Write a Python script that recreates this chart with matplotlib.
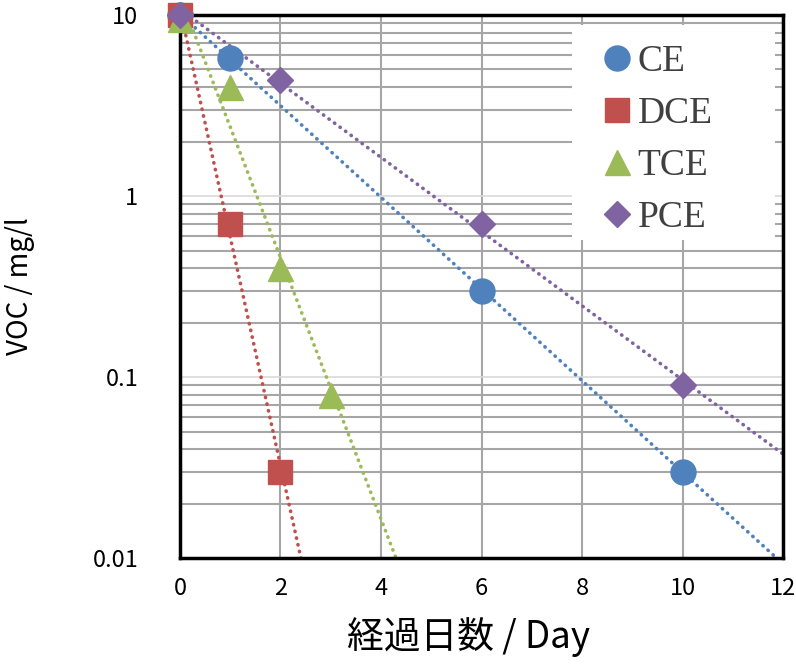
import matplotlib.pyplot as plt
from matplotlib.patches import Rectangle
import numpy as np

days_ce = [0, 1, 6, 10]
voc_ce = [10, 5.8, 0.3, 0.03]
days_dce = [0, 1, 2]
voc_dce = [10, 0.7, 0.03]
days_tce = [0, 1, 2, 3]
voc_tce = [9.5, 4.0, 0.4, 0.08]
days_pce = [0, 2, 6, 10]
voc_pce = [10, 4.4, 0.7, 0.09]

plt.rcParams['font.family'] = ['Noto Sans CJK JP', 'DejaVu Sans']

fig = plt.figure(figsize=(7.96, 6.64), dpi=100)
ax = fig.add_axes([0.226, 0.1596, 0.758, 0.8178])

series = [
    ("CE", days_ce, voc_ce, "#4F81BD", "o", 18),
    ("DCE", days_dce, voc_dce, "#C0504D", "s", 17),
    ("TCE", days_tce, voc_tce, "#9BBB59", "^", 18),
    ("PCE", days_pce, voc_pce, "#8064A2", "D", 13),
]

# exponential trend lines (fit of log y vs x), under the markers
xs = np.linspace(0, 12, 400)
for name, x, y, c, m, ms in series:
    k, b = np.polyfit(x, np.log(y), 1)
    ax.plot(xs, np.exp(b + k * xs), color=c, lw=2.6, linestyle=(0, (0.1, 1.8)),
            dash_capstyle='round', zorder=2)

for name, x, y, c, m, ms in series:
    ax.plot(x, y, linestyle='none', marker=m, color=c, markersize=ms,
            label=name, clip_on=False, zorder=5)

ax.set_yscale('log')
ax.set_xlim(0, 12)
ax.set_ylim(0.01, 10)
ax.set_xticks(range(0, 13, 2))
ax.set_yticks([0.01, 0.1, 1, 10])
ax.set_yticklabels(["0.01", "0.1", "1", "10"])

ax.grid(True, which='major', axis='x', color='#A6A6A6', lw=1.5)
ax.grid(True, which='minor', axis='y', color='#A6A6A6', lw=1.5)
ax.grid(True, which='major', axis='y', color='#D9D9D9', lw=1.2)
ax.set_axisbelow(True)

ax.tick_params(which='both', length=0, labelsize=17)
ax.tick_params(axis='y', pad=30)
ax.tick_params(axis='x', pad=14)
for s in ax.spines.values():
    s.set_linewidth(2.5)
    s.set_color('black')

ax.set_xlabel("経過日数 / Day", fontsize=26.5)
ax.xaxis.set_label_coords(0.479, -0.109)
ax.set_ylabel("VOC / mg/l", fontsize=20)
ax.yaxis.set_label_coords(-0.24, 0.5)

# white legend area
ax.add_patch(Rectangle((0.650, 0.586), 0.337, 0.396, transform=ax.transAxes,
                       facecolor='white', edgecolor='none', zorder=3))

leg = ax.legend(loc='upper left', bbox_to_anchor=(0.678, 0.969), frameon=False,
                prop={'family': 'Liberation Serif', 'size': 27},
                handletextpad=0.15, labelspacing=0.46, borderpad=0.35,
                handlelength=0.8, borderaxespad=0)
leg.set_zorder(6)
for t in leg.get_texts():
    t.set_color('#404040')

fig.savefig("out.png", dpi=100)
